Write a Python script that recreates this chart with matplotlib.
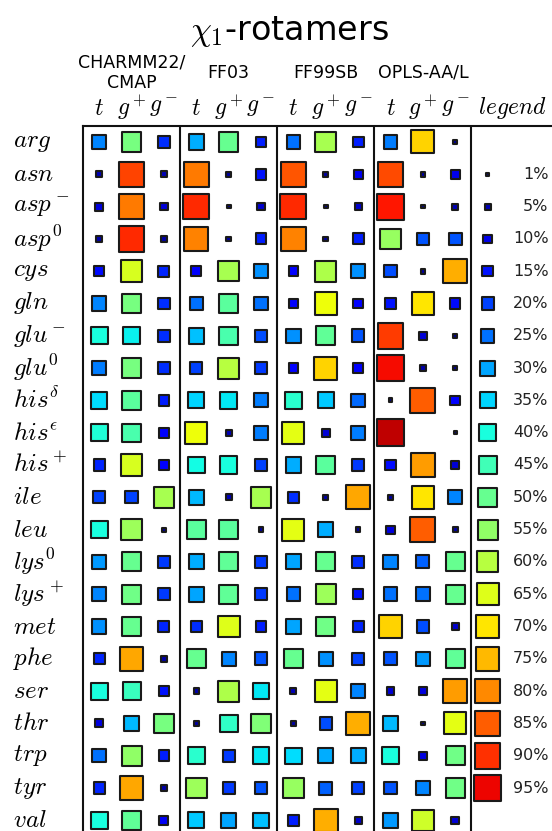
import matplotlib
matplotlib.use("Agg")
import matplotlib.pyplot as plt
import matplotlib.transforms as mtransforms
import numpy as np

plt.rcParams['mathtext.fontset'] = 'cm'

residues = [r'$arg$', r'$asn$', r'$asp^-$', r'$asp^0$', r'$cys$', r'$gln$', r'$glu^-$', r'$glu^0$',
            r'$his^\delta$', r'$his^\epsilon$', r'$his^+$', r'$ile$', r'$leu$', r'$lys^0$', r'$lys^+$',
            r'$met$', r'$phe$', r'$ser$', r'$thr$', r'$trp$', r'$tyr$', r'$val$']
force_fields = ['CHARMM22/\nCMAP', 'FF03', 'FF99SB', 'OPLS-AA/L']
rotamers = [r'$t$', r'$g^+$', r'$g^-$']

# populations in %, columns t, g+, g-
charmm = [[27, 52, 18], [5, 88, 5], [9, 82, 8], [4, 91, 4], [14, 64, 17], [27, 52, 18],
          [40, 38, 18], [26, 52, 18], [36, 48, 16], [41, 46, 13], [17, 64, 12], [20, 20, 58],
          [40, 57, 2], [29, 50, 19], [27, 51, 19], [28, 50, 17], [17, 77, 4], [40, 44, 15],
          [9, 32, 52], [25, 55, 16], [17, 77, 4], [40, 49, 11]]
ff03 = [[31, 50, 16], [82, 3, 15], [91, 2, 7], [81, 3, 16], [13, 58, 28], [25, 48, 25],
        [33, 46, 21], [20, 60, 19], [35, 37, 26], [67, 5, 26], [39, 40, 20], [32, 5, 58],
        [48, 48, 3], [31, 49, 19], [30, 49, 19], [18, 65, 16], [50, 27, 22], [4, 59, 37],
        [3, 43, 53], [42, 19, 37], [57, 19, 22], [34, 30, 33]]
ff99sb = [[25, 58, 16], [86, 3, 11], [91, 2, 7], [81, 3, 16], [12, 59, 28], [13, 67, 12],
          [28, 49, 22], [12, 72, 12], [42, 34, 24], [66, 8, 26], [31, 48, 19], [18, 4, 77],
          [66, 31, 3], [30, 50, 18], [25, 57, 15], [30, 51, 17], [50, 28, 20], [5, 66, 27],
          [3, 21, 76], [36, 31, 31], [56, 23, 20], [16, 76, 7]]
opls = [[26, 72, 2], [87, 3, 10], [93, 2, 5], [56, 22, 22], [21, 3, 76], [15, 70, 14],
        [89, 8, 2], [94, 4, 2], [2, 85, 13], [99, 0, 1], [14, 78, 8], [3, 70, 27],
        [9, 85, 4], [27, 23, 50], [25, 25, 50], [72, 21, 7], [22, 29, 49], [8, 9, 78],
        [32, 2, 66], [40, 9, 51], [22, 27, 51], [29, 63, 8]]
legend_values = [1, 5, 10, 15, 20, 25, 30, 35, 40, 45, 50, 55, 60, 65, 70, 75, 80, 85, 90, 95]

fig = plt.figure(figsize=(5.52, 8.31), dpi=100)
ax = fig.add_axes([83 / 552, -0.0066, 469 / 552, 0.8552])
ax.set_xlim(-0.5, 13.99)
ax.set_ylim(21.5, -0.5)

size_scale = 3.8
style = dict(marker='s', cmap='jet', vmin=0, vmax=105, edgecolors='#1a1a1a', linewidths=1.5, zorder=3)

for k, data in enumerate([charmm, ff03, ff99sb, opls]):
    vals = np.array(data, dtype=float)
    rows, cols = np.nonzero(vals > 0)
    v = vals[rows, cols]
    ax.scatter(3 * k + cols, rows, s=v * size_scale, c=v, **style)

leg_rows = np.arange(1, len(legend_values) + 1)
leg_v = np.array(legend_values, dtype=float)
ax.scatter(np.full(len(leg_v), 12), leg_rows, s=leg_v * size_scale, c=leg_v, **style)
for r, v in zip(leg_rows, legend_values):
    ax.text(13.88, r, f'{v}%', ha='right', va='center', fontsize=11.5, color='#222222')

for xs in [2.5, 5.5, 8.5, 11.5]:
    ax.axvline(xs, color='#111111', lw=1.5, zorder=1)

for side in ['right', 'bottom']:
    ax.spines[side].set_visible(False)
for side in ['left', 'top']:
    ax.spines[side].set_linewidth(1.5)
    ax.spines[side].set_color('#111111')
ax.set_xticks([])
ax.set_yticks([])

trans = mtransforms.blended_transform_factory(fig.transFigure, ax.transData)
for r, name in enumerate(residues):
    ax.text(13 / 552, r, name, transform=trans, ha='left', va='center', fontsize=18)

for k, ff in enumerate(force_fields):
    ax.text(3 * k + 1, -2.15, ff, ha='center', va='center', fontsize=12.5, linespacing=1.2)
    for j, rot in enumerate(rotamers):
        ax.text(3 * k + j, -1.05, rot, ha='center', va='center', fontsize=17)
ax.text(12.75, -1.05, r'$legend$', ha='center', va='center', fontsize=17)

fig.text(0.525, 0.962, r'$\chi_1$-rotamers', ha='center', va='center', fontsize=24)

fig.savefig('out.png', dpi=100, facecolor='white')
